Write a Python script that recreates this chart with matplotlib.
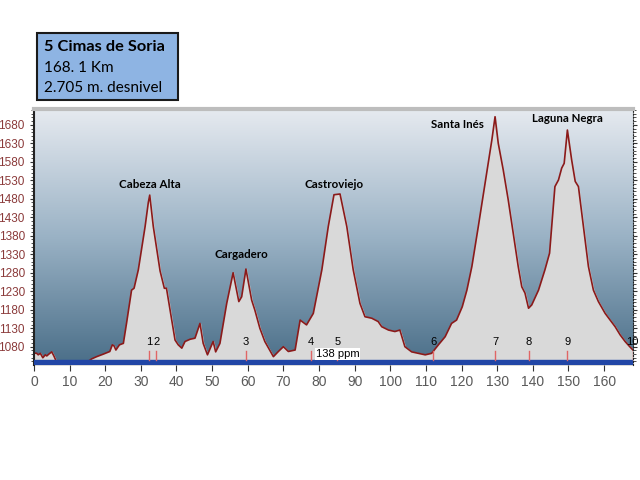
import numpy as np
import matplotlib
matplotlib.use("Agg")
import matplotlib.pyplot as plt
from matplotlib.colors import LinearSegmentedColormap
from matplotlib.patches import Rectangle
from matplotlib.ticker import MultipleLocator

# Elevation profile (km, m)
km = [0, 0.8, 1.2, 1.8, 2.5, 3.2, 3.6, 4.2, 5.0, 5.6, 6.2, 8, 12, 15.5, 16.2,
      17.6, 19.5, 21.3, 22.0, 22.5, 23.0, 24.0, 25.1, 26.0, 27.4, 28.1, 29.3,
      31.2, 32.1, 32.5, 33.5, 35.4, 36.6, 37.2, 39.6, 40.5, 41.5, 42.4, 43.8,
      45.2, 46.6, 47.5, 48.7, 50.3, 51.0, 52.2, 54.1, 55.9, 57.5, 58.3, 59.5,
      61.1, 62.0, 63.4, 64.8, 67.2, 68.6, 70.0, 71.4, 73.3, 74.7, 76.5, 78.4,
      80.8, 82.6, 84.2, 85.9, 87.8, 89.6, 91.5, 92.9, 94.8, 96.6, 97.6, 99.5,
      101.3, 102.7, 104.1, 106.0, 107.9, 109.8, 111.6, 113.5, 115.4, 117.2,
      118.6, 120.2, 121.5, 122.9, 124.7, 126.6, 128.5, 129.4, 130.3, 131.7,
      133.1, 134.5, 135.9, 136.9, 137.8, 138.8, 139.7, 141.6, 143.4, 144.7,
      145.3, 146.2, 147.2, 148.1, 148.8, 149.7, 150.9, 151.9, 152.8, 154.2,
      155.6, 157.0, 158.4, 160.3, 161.7, 163.1, 164.5, 165.9, 167.2, 168.1]
elev = [1063, 1062, 1058, 1062, 1050, 1058, 1055, 1060, 1066, 1055, 1042, 1040,
        1040, 1042, 1047, 1053, 1060, 1067, 1085, 1082, 1071, 1085, 1089, 1144,
        1233, 1238, 1288, 1405, 1470, 1490, 1405, 1285, 1238, 1238, 1098, 1085,
        1076, 1094, 1100, 1103, 1143, 1089, 1058, 1094, 1066, 1089, 1197, 1280,
        1202, 1215, 1290, 1206, 1179, 1130, 1094, 1053, 1067, 1080, 1067, 1071,
        1152, 1139, 1170, 1288, 1405, 1491, 1493, 1405, 1288, 1197, 1161, 1157,
        1148, 1134, 1125, 1121, 1125, 1080, 1066, 1062, 1058, 1062, 1085, 1107,
        1143, 1152, 1188, 1233, 1297, 1405, 1522, 1639, 1702, 1630, 1558, 1477,
        1387, 1297, 1242, 1225, 1184, 1193, 1233, 1288, 1333, 1405, 1513, 1531,
        1563, 1576, 1666, 1585, 1527, 1513, 1405, 1297, 1233, 1202, 1170, 1152,
        1134, 1112, 1094, 1080, 1071]

peaks = ["Cabeza Alta", "Cargadero", "Castroviejo", "Santa Inés", "Laguna Negra"]
peak_km = [32.4, 58.3, 84.2, 118.8, 149.7]
peak_label_elev = [1518, 1328, 1518, 1680, 1696]

waypoints = ["1", "2", "3", "4", "5", "6", "7", "8", "9", "10"]
waypoint_km = [32.3, 34.3, 59.4, 77.7, 85.1, 112.1, 129.4, 138.8, 149.7, 168.0]

title = "5 Cimas de Soria"
subtitle = ["168. 1 Km", "2.705 m. desnivel"]

ymin, ymax = 1031, 1723
xmax = 168.1

fig = plt.figure(figsize=(6.4, 4.8), dpi=100)
ax = fig.add_axes([0.053, 0.240, 0.936, 0.533])

# gradient background
cmap = LinearSegmentedColormap.from_list("sky", ["#4A6E88", "#9AB2C5", "#E6EAF0"])
grad = np.linspace(0, 1, 256)[:, None]
ax.imshow(grad, extent=[0, xmax, ymin, ymax], origin="lower", aspect="auto",
          cmap=cmap, zorder=0)

ax.fill_between(km, elev, ymin, color="#D9D9D9", zorder=1)
ax.plot(km, elev, color="#8B1A1A", lw=1.2, zorder=2)
ax.axhspan(ymin, 1045, color="#2146A6", zorder=3)

for name, x, y in zip(peaks, peak_km, peak_label_elev):
    ax.text(x, y, name, ha="center", va="center", fontsize=8.3,
            fontweight="bold", family="Lato", zorder=4)

for name, x in zip(waypoints, waypoint_km):
    ax.plot([x, x], [1045, 1068], color="#E06666", lw=1, zorder=4)
    ax.text(x, 1093, name, ha="center", va="center", fontsize=8,
            family="Liberation Sans", zorder=4)

ax.text(79.2, 1060, "138 ppm", ha="left", va="center", fontsize=8,
        family="Liberation Sans", zorder=5,
        bbox=dict(facecolor="white", edgecolor="none", pad=0.5))

ax.set_xlim(0, xmax)
ax.set_ylim(ymin, ymax)
ax.set_xticks(np.arange(0, 161, 10))
ax.set_yticks(np.arange(1080, 1681, 50))
ax.yaxis.set_minor_locator(MultipleLocator(10))
ax.tick_params(axis="x", labelsize=10, labelcolor="#5A5A5A", color="#333333",
               length=4, pad=3)
for lbl in ax.get_xticklabels():
    lbl.set_family("Liberation Sans")
ax.tick_params(axis="y", which="both", left=True, right=True, color="#333333",
               labelsize=8.5, labelcolor="#8B3A3A")
ax.tick_params(axis="y", which="major", length=3)
ax.tick_params(axis="y", which="minor", length=2)
for lbl in ax.get_yticklabels():
    lbl.set_family("Liberation Sans")

ax.spines["left"].set_color("#222222")
ax.spines["left"].set_linewidth(1.5)
ax.spines["right"].set_linestyle(":")
ax.spines["right"].set_color("#222222")
ax.spines["top"].set_color("#BDBDBD")
ax.spines["top"].set_linewidth(3)
ax.spines["bottom"].set_visible(False)

# title box
fig.patches.append(Rectangle((0.058, 0.792), 0.220, 0.140, transform=fig.transFigure,
                             facecolor="#8EB4E3", edgecolor="#1A1A1A", lw=1.5))
fig.text(0.069, 0.902, title, fontsize=11.8, fontweight="bold", family="Lato",
         va="center")
fig.text(0.069, 0.858, subtitle[0], fontsize=11, family="Lato", va="center")
fig.text(0.069, 0.817, subtitle[1], fontsize=11, family="Lato", va="center")

plt.savefig("out.png", dpi=100)
